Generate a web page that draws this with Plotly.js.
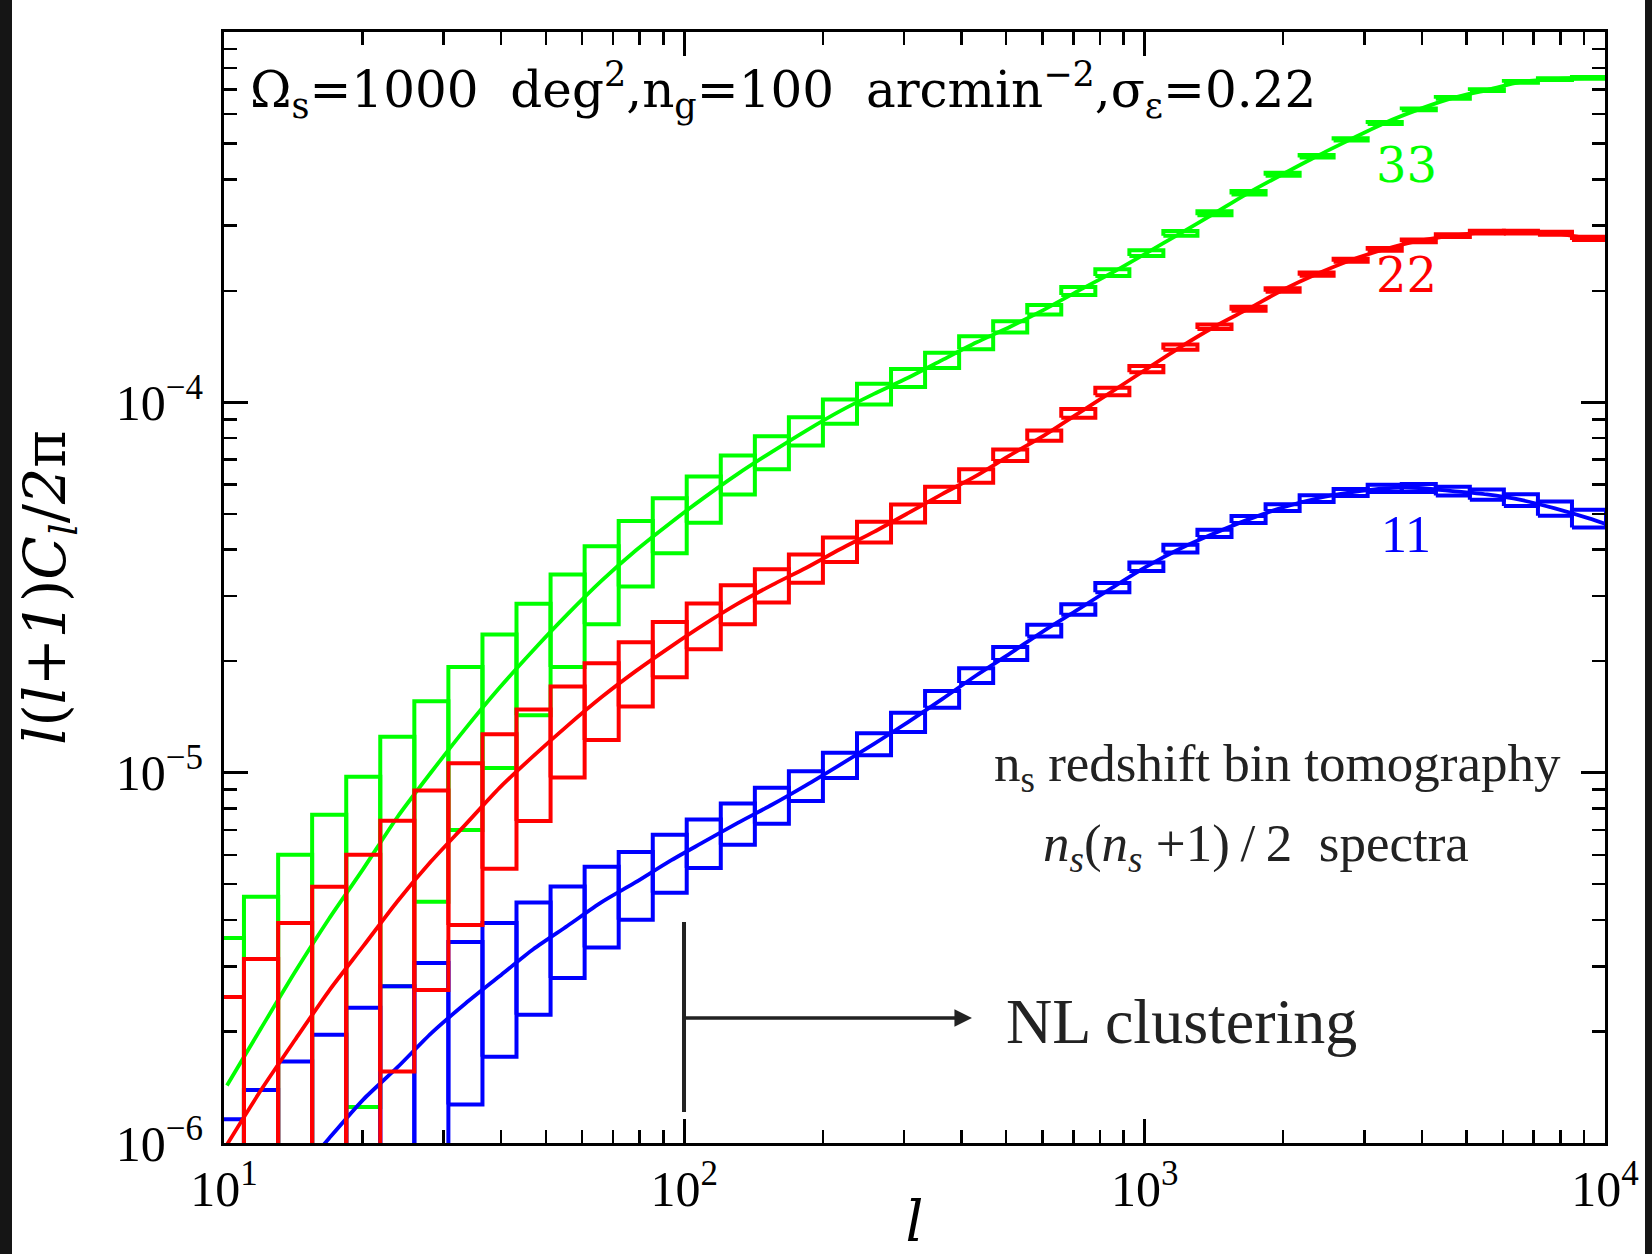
<!DOCTYPE html>
<html><head><meta charset="utf-8">
<script src="https://cdn.plot.ly/plotly-3.0.1.min.js"></script>
<style>
html,body{margin:0;padding:0;background:#151515;width:1652px;height:1254px;overflow:hidden;}
#wrap{position:absolute;left:12px;top:0;width:1633px;height:1254px;background:#fff;}
#plot{width:1633px;height:1254px;}
</style></head>
<body><div id="wrap"><div id="plot"></div></div>
<script>
// ---- data ----
// multipole bin edges (log-spaced band powers)
const binEdges = [9.32, 11.05, 13.11, 15.54, 18.43, 21.85, 25.91, 30.72, 36.43, 43.19, 51.22,
  60.73, 72.01, 85.39, 101.2, 120.0, 142.3, 168.7, 200.0, 237.2, 281.2, 333.4, 395.3, 468.7,
  555.8, 658.9, 781.3, 926.4, 1098, 1302, 1544, 1831, 2171, 2573, 3051, 3618, 4290, 5086,
  6030, 7150, 8477, 10050];
const lMax = 10000;

// spectrum 33 : l(l+1)C_l/2pi at bin centres and band-power error
const cl33 = [1.43e-6, 2.04e-6, 2.9e-6, 4.04e-6, 5.5e-6, 7.58e-6, 1.004e-5, 1.315e-5, 1.695e-5, 2.145e-5, 2.68e-5,
  3.30e-5, 3.98e-5, 4.71e-5, 5.52e-5, 6.41e-5, 7.35e-5, 8.38e-5, 9.47e-5, 1.054e-4, 1.165e-4,
  1.30e-4, 1.45e-4, 1.60e-4, 1.78e-4, 2.00e-4, 2.24e-4, 2.53e-4, 2.86e-4, 3.24e-4, 3.68e-4,
  4.13e-4, 4.62e-4, 5.13e-4, 5.68e-4, 6.18e-4, 6.64e-4, 6.97e-4, 7.33e-4, 7.46e-4, 7.52e-4];
const err33 = [2.15e-6, 2.58e-6, 3.1e-6, 3.66e-6, 4.25e-6, 4.93e-6, 5.56e-6, 6.15e-6, 6.65e-6, 7.15e-6, 7.5e-6,
  7.85e-6, 8.0e-6, 8.0e-6, 7.9e-6, 7.75e-6, 7.55e-6, 7.3e-6, 7.1e-6, 6.8e-6, 6.5e-6,
  6.2e-6, 5.9e-6, 5.6e-6, 5.3e-6, 5.0e-6, 4.7e-6, 4.5e-6, 4.3e-6, 4.1e-6, 3.95e-6,
  3.8e-6, 3.7e-6, 3.6e-6, 3.6e-6, 3.6e-6, 3.6e-6, 3.7e-6, 3.8e-6, 3.9e-6, 4.1e-6];
const end33 = 7.56e-4;

// spectrum 22
const cl22 = [0.99e-6, 1.39e-6, 1.90e-6, 2.58e-6, 3.40e-6, 4.49e-6, 5.77e-6, 7.24e-6, 9.1e-6, 1.11e-5, 1.34e-5,
  1.60e-5, 1.88e-5, 2.18e-5, 2.51e-5, 2.86e-5, 3.21e-5, 3.57e-5, 4.01e-5, 4.47e-5, 5.02e-5,
  5.65e-5, 6.33e-5, 7.20e-5, 8.14e-5, 9.34e-5, 1.07e-4, 1.23e-4, 1.41e-4, 1.60e-4, 1.79e-4,
  2.01e-4, 2.22e-4, 2.42e-4, 2.59e-4, 2.73e-4, 2.82e-4, 2.88e-4, 2.88e-4, 2.86e-4, 2.77e-4];
const err22 = [1.49e-6, 1.75e-6, 2.03e-6, 2.34e-6, 2.6e-6, 2.93e-6, 3.18e-6, 3.36e-6, 3.6e-6, 3.7e-6, 3.7e-6,
  3.75e-6, 3.7e-6, 3.7e-6, 3.55e-6, 3.45e-6, 3.3e-6, 3.15e-6, 3.05e-6, 2.9e-6, 2.8e-6,
  2.7e-6, 2.65e-6, 2.6e-6, 2.6e-6, 2.5e-6, 2.45e-6, 2.4e-6, 2.35e-6, 2.3e-6, 2.25e-6,
  2.25e-6, 2.2e-6, 2.2e-6, 2.2e-6, 2.25e-6, 2.3e-6, 2.4e-6, 2.5e-6, 2.65e-6, 2.8e-6];
const end22 = 2.74e-4;

// spectrum 11
const cl11 = [4.65e-7, 6.14e-7, 8.0e-7, 1.03e-6, 1.31e-6, 1.60e-6, 1.98e-6, 2.38e-6, 2.82e-6, 3.34e-6, 3.86e-6,
  4.47e-6, 5.06e-6, 5.77e-6, 6.50e-6, 7.32e-6, 8.19e-6, 9.24e-6, 1.05e-5, 1.196e-5, 1.37e-5,
  1.58e-5, 1.83e-5, 2.10e-5, 2.42e-5, 2.76e-5, 3.16e-5, 3.60e-5, 4.03e-5, 4.43e-5, 4.83e-5,
  5.20e-5, 5.50e-5, 5.71e-5, 5.86e-5, 5.87e-5, 5.76e-5, 5.64e-5, 5.45e-5, 5.17e-5, 4.86e-5];
const err11 = [0.695e-6, 0.776e-6, 0.86e-6, 0.93e-6, 1.01e-6, 1.05e-6, 1.08e-6, 1.11e-6, 1.11e-6, 1.12e-6, 1.07e-6,
  1.1e-6, 1.05e-6, 1.03e-6, 0.97e-6, 0.93e-6, 0.91e-6, 0.85e-6, 0.82e-6, 0.82e-6, 0.82e-6,
  0.82e-6, 0.84e-6, 0.85e-6, 0.87e-6, 0.9e-6, 0.92e-6, 0.95e-6, 0.98e-6, 1.0e-6, 1.05e-6,
  1.1e-6, 1.15e-6, 1.25e-6, 1.35e-6, 1.45e-6, 1.6e-6, 1.8e-6, 2.0e-6, 2.3e-6, 2.7e-6];
const end11 = 4.7e-5;

const seriesNames = ['33', '22', '11'];
const xTickVals = [10, 100, 1000, 10000];
const xTickText = ['10<sup>1</sup>', '10<sup>2</sup>', '10<sup>3</sup>', '10<sup>4</sup>'];
const yTickVals = [1e-6, 1e-5, 1e-4, 1e-3];
const yTickText = ['10<sup>\u22126</sup>', '10<sup>\u22125</sup>', '10<sup>\u22124</sup>', '10<sup>\u22123</sup>'];

// ---- build traces ----
const binCenters = binEdges.slice(0, -1).map((lo, i) => Math.sqrt(lo * binEdges[i + 1]));
function minorVals(decades) {
  const v = [];
  decades.forEach(d => { for (let m = 2; m <= 9; m++) v.push(m * d); });
  return v;
}
function boxTrace(cl, err, color) {
  const xs = [], ys = [];
  for (let i = 0; i < cl.length; i++) {
    const lo = binEdges[i], hi = binEdges[i + 1];
    const top = cl[i] + err[i];
    let bot = cl[i] - err[i];
    if (bot <= 0) bot = 1e-9; // box extends below the plotted range
    xs.push(lo, hi, hi, lo, lo, null);
    ys.push(bot, bot, top, top, bot, null);
  }
  return {x: xs, y: ys, type: 'scatter', mode: 'lines', connectgaps: false,
    line: {color: color, width: 4}, hoverinfo: 'skip', showlegend: false};
}
function curveTrace(cl, endVal, color) {
  return {x: binCenters.concat([lMax]), y: cl.concat([endVal]), type: 'scatter', mode: 'lines',
    line: {color: color, width: 3.8, shape: 'spline', smoothing: 0.7}, hoverinfo: 'skip', showlegend: false};
}
const GREEN = '#00ff00', RED = '#ff0000', BLUE = '#0000ff';
const traces = [
  boxTrace(cl33, err33, GREEN), curveTrace(cl33, end33, GREEN),
  boxTrace(cl11, err11, BLUE), curveTrace(cl11, end11, BLUE),
  boxTrace(cl22, err22, RED), curveTrace(cl22, end22, RED)
];

const serif = 'DejaVu Serif, serif';
const times = 'Liberation Serif, Times New Roman, serif';
const axisCommon = {
  type: 'log', showline: true, linewidth: 3, linecolor: '#000', mirror: 'allticks',
  ticks: 'inside', ticklen: 24, tickwidth: 3, tickcolor: '#000',
  showgrid: false, zeroline: false, tickmode: 'array',
  tickfont: {family: times, size: 50, color: '#000'}
};
function note(x, y, text, font) {
  return {xref: 'paper', yref: 'paper', x: x, y: y, xanchor: 'center', yanchor: 'middle',
    showarrow: false, text: text, font: font};
}
const layout = {
  width: 1633, height: 1254,
  margin: {l: 212, r: 40, t: 32, b: 111},
  paper_bgcolor: '#fff', plot_bgcolor: '#fff',
  showlegend: false, hovermode: false,
  xaxis: Object.assign({}, axisCommon, {
    range: [1, 4], tickvals: xTickVals, ticktext: xTickText,
    minor: {ticks: 'inside', ticklen: 13, tickwidth: 2.5, tickcolor: '#000', tickmode: 'array',
      tickvals: minorVals([10, 100, 1000]), showgrid: false},
    title: {text: '<i>l</i>', font: {family: serif, size: 56, color: '#000'}, standoff: 6}
  }),
  yaxis: Object.assign({}, axisCommon, {
    range: [-6, -3], tickvals: yTickVals, ticktext: yTickText, ticklabelstandoff: 8,
    minor: {ticks: 'inside', ticklen: 13, tickwidth: 2.5, tickcolor: '#000', tickmode: 'array',
      tickvals: minorVals([1e-6, 1e-5, 1e-4]), showgrid: false},
    title: {text: '<i>l</i>(<i>l</i>+<i>1</i>)<i>C</i><sub><i>l</i></sub>/<i>2</i>\u03c0',
      font: {family: serif, size: 57, color: '#000'}, standoff: 38}
  }),
  shapes: [
    {type: 'line', xref: 'paper', yref: 'paper', x0: 0.3331, x1: 0.3331, y0: 0.028, y1: 0.199,
      line: {color: '#222', width: 4}}
  ],
  annotations: [
    {xref: 'paper', yref: 'paper', x: 0.0175, y: 0.948, xanchor: 'left', yanchor: 'middle', showarrow: false,
      text: '\u03a9<sub>s</sub>=1000\u00a0 deg<sup>2</sup>,n<sub>g</sub>=100\u00a0 arcmin<sup>\u22122</sup>,\u03c3<sub>\u03b5</sub>=0.22',
      font: {family: serif, size: 50, color: '#000'}},
    note(0.8566, 0.880, seriesNames[0], {family: serif, size: 48, color: GREEN}),
    note(0.8566, 0.781, seriesNames[1], {family: serif, size: 48, color: RED}),
    note(0.8560, 0.548, seriesNames[2], {family: times, size: 52, color: BLUE}),
    note(0.7625, 0.338, 'n<sub>s</sub> redshift bin tomography', {family: times, size: 53, color: '#222'}),
    note(0.747, 0.266, '<i>n</i><sub><i>s</i></sub>(<i>n</i><sub><i>s</i></sub> +1)\u2009/\u20092\u00a0 spectra',
      {family: times, size: 53, color: '#222'}),
    note(0.6937, 0.109, 'NL clustering', {family: times, size: 64, color: '#222'}),
    {xref: 'paper', yref: 'paper', x: 0.5416, y: 0.1126, ax: -288, ay: 0, text: '', showarrow: true,
      arrowhead: 2, arrowsize: 1, arrowwidth: 3.5, arrowcolor: '#222', standoff: 0, startstandoff: 0}
  ]
};
Plotly.newPlot('plot', traces, layout, {staticPlot: true, displayModeBar: false});
</script></body></html>
